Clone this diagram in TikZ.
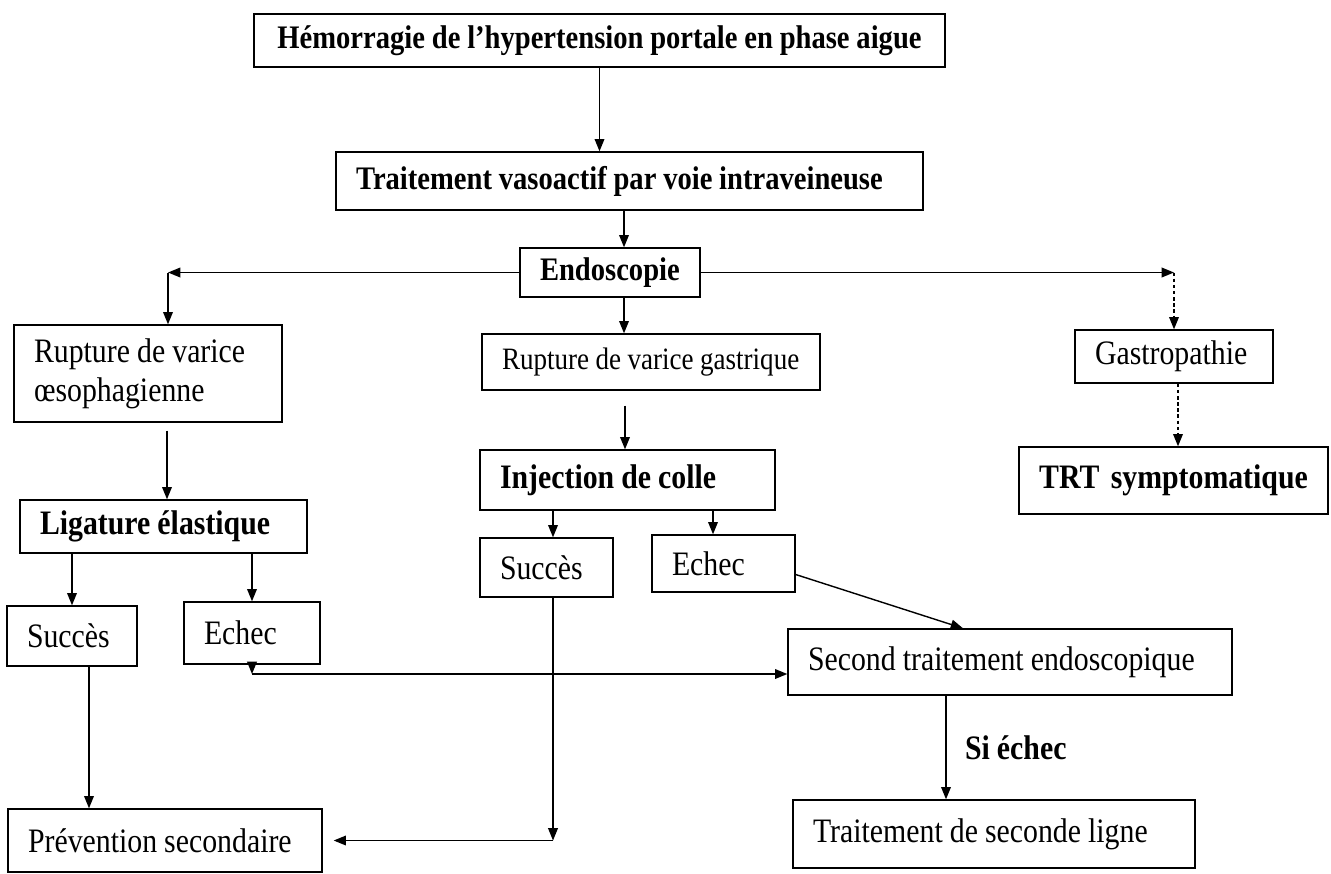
\documentclass[tikz,border=0pt]{standalone}
\usepackage{fontspec}
\setmainfont{Liberation Serif}[FakeStretch=0.87, WordSpace=0.95]
\usetikzlibrary{arrows.meta,calc,positioning}

\begin{document}
\begin{tikzpicture}[x=0.02cm, y=-0.02cm,
    box/.style={draw, line width=0.8pt, inner xsep=0.4cm, inner ysep=0pt, align=flush left,
        font=\fontsize{19.5}{22}\selectfont},
    boldbox/.style={box, font=\fontsize{19.5}{22}\selectfont\bfseries},
    arr/.style={line width=0.8pt, -{Triangle[length=7pt,width=5.5pt]}},
    dotarr/.style={arr, dash pattern=on 2pt off 1.5pt}]
    \useasboundingbox (0,0) rectangle (1331,873);

    % Top of the chart
    \node[boldbox, align=center, minimum width=13.82cm, minimum height=1.06cm, inner xsep=0.1cm,
        font=\fontsize{18.7}{22}\selectfont\bfseries] (hemo) at (599.5,40.5)
        {Hémorragie de l’hypertension portale en phase aigue};
    \node[boldbox, text width=10.94cm, minimum height=1.16cm,
        font=\fontsize{18.7}{22}\selectfont\bfseries] (vaso) at (629.5,181)
        {Traitement vasoactif par voie intraveineuse};
    \node[boldbox, text width=2.8cm, minimum height=0.98cm,
        font=\fontsize{18.7}{22}\selectfont\bfseries] (endo) at (610,272.5) {Endoscopie};

    % Three kinds of bleeding
    \node[box, text width=4.56cm, minimum height=1.94cm] (rvo) at (148,373.5)
        {Rupture de varice\\ œsophagienne};
    \node[box, text width=5.96cm, minimum height=1.12cm,
        font=\fontsize{17.7}{22}\selectfont] (rvg) at (651,362) {Rupture de varice gastrique};
    \node[box, text width=3.16cm, minimum height=1.06cm] (gastro) at (1174,356.5) {Gastropathie};
    \node[boldbox, align=center, text width=5.38cm, minimum height=1.34cm] (trt) at (1173.5,480.5)
        {TRT symptomatique};

    % Treatments
    \node[boldbox, text width=5.1cm, minimum height=1.2cm] (colle) at (627.5,480) {Injection de colle};
    \node[boldbox, text width=4.94cm, minimum height=1.06cm] (liga) at (163.5,526.5) {Ligature élastique};

    % Outcomes
    \node[box, text width=1.8cm, minimum height=1.2cm] (succ1) at (72,636) {Succès};
    \node[box, text width=1.92cm, minimum height=1.24cm] (ech1) at (252,633) {Echec};
    \node[box, text width=1.86cm, minimum height=1.18cm] (succ2) at (546.5,567.5) {Succès};
    \node[box, text width=2.06cm, minimum height=1.14cm] (ech2) at (723.5,563.5) {Echec};
    \node[box, text width=8.08cm, minimum height=1.32cm] (second) at (1010,662)
        {Second traitement endoscopique};
    \node[box, text width=5.48cm, minimum height=1.26cm] (prev) at (165,840.5) {Prévention secondaire};
    \node[box, text width=7.24cm, minimum height=1.36cm] (ligne) at (994,834)
        {Traitement de seconde ligne};

    % Main line
    \draw[arr] (hemo.south) -- (hemo.south |- vaso.north);
    \draw[arr] (vaso.south -| 624,0) -- (endo.north -| 624,0);

    % Left branch
    \coordinate (c1) at (endo.west -| 168,0);
    \draw[arr] (endo.west) -- (c1);
    \draw[arr] (c1) -- (c1 |- rvo.north);
    % Right branch
    \coordinate (c2) at (endo.east -| gastro.north);
    \draw[arr] (endo.east) -- (c2);
    \draw[dotarr] (c2) -- (gastro.north);
    \draw[dotarr] (gastro.south -| 1178,0) -- (trt.north -| 1178,0);
    % Middle branch
    \draw[arr] (endo.south -| 624,0) -- (rvg.north -| 624,0);
    \draw[arr] ($(rvg.south -| 625,0)+(0,15)$) -- (colle.north -| 625,0);

    % Ligature
    \draw[arr] ($(rvo.south -| 167,0)+(0,8)$) -- (liga.north -| 167,0);
    \draw[arr] (liga.south -| succ1.north) -- (succ1.north);
    \draw[arr] (liga.south -| ech1.north) -- (ech1.north);
    \draw[arr] (succ1.south -| 89,0) -- (prev.north -| 89,0);
    \coordinate (c3) at (ech1.south |- 0,674);
    \draw[arr] (ech1.south) -- (c3);
    \draw[arr] (c3) -- (c3 -| second.west);

    % Glue
    \draw[arr] (colle.south -| 553,0) -- (succ2.north -| 553,0);
    \draw[arr] (colle.south -| 713,0) -- (ech2.north -| 713,0);
    \draw[arr] ($(ech2.east)+(0,11)$) -- (second.north -| 963,0);
    \coordinate (c4) at (prev.east -| 553,0);
    \draw[arr] (succ2.south -| 553,0) -- (c4);
    \draw[arr] (c4) -- ($(prev.east)+(11,0)$);

    % Second line
    \draw[arr] (second.south -| 946,0) -- (ligne.north -| 946,0)
        node[midway, right=0.25cm, font=\fontsize{19.5}{22}\selectfont\bfseries] (siechec) {Si échec};
\end{tikzpicture}
\end{document}
